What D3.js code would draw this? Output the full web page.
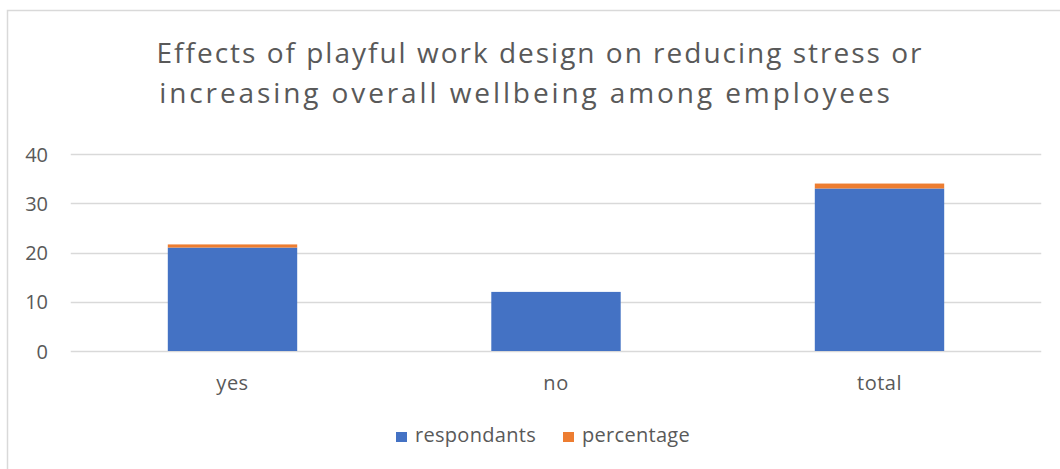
<!DOCTYPE html>
<html><head><meta charset="utf-8">
<script src="https://cdn.jsdelivr.net/npm/d3@7"></script>
<style>body{margin:0;background:#fff;} svg{display:block;font-family:"Open Sans",sans-serif;}</style>
</head><body>
<svg id="c" width="1060" height="469"></svg>
<script>
const categories = ["yes", "no", "total"];
const respondants = [21, 12, 33];
const percentage = [0.64, 0, 1];
const seriesNames = ["respondants", "percentage"];
const seriesColors = ["#4472C4", "#ED7D31"];
const yTicks = [0, 10, 20, 30, 40];
const titleLines = ["Effects of playful work design on reducing stress or", "increasing overall wellbeing among employees"];

const svg = d3.select("#c");
const textColor = "#595959";
const FONT = "'Open Sans', sans-serif";

svg.append("rect").attr("x", 7.5).attr("y", 10.5).attr("width", 1100).attr("height", 600)
  .attr("fill", "#fff").attr("stroke", "#d9d9d9").attr("stroke-width", 1.5);

const x = d3.scaleBand().domain(categories).range([70.75, 1041.25]).paddingInner(0.6).paddingOuter(0.3);
const y = d3.scaleLinear().domain([0, 40]).range([351, 154]);

// gridlines
svg.append("g").selectAll("line").data(yTicks).join("line")
  .attr("x1", 70.75).attr("x2", 1041.25)
  .attr("y1", d => Math.round(y(d)) + 0.5).attr("y2", d => Math.round(y(d)) + 0.5)
  .attr("stroke", "#d9d9d9").attr("stroke-width", 1.3);

// y axis
const yAxis = d3.axisLeft(y).tickValues(yTicks).tickSize(0).tickPadding(0);
const yg = svg.append("g").attr("transform", "translate(48,0)").call(yAxis);
yg.select(".domain").remove();
yg.selectAll("text").attr("fill", textColor).style("font-size", "20px").style("font-family", FONT).attr("dy", "0.36em");

// stacked data
const rows = categories.map((c, i) => ({cat: c, respondants: respondants[i], percentage: percentage[i]}));
const stack = d3.stack().keys(seriesNames)(rows);
svg.append("g").selectAll("g").data(stack).join("g")
  .attr("fill", (d, i) => seriesColors[i])
  .selectAll("rect").data(d => d).join("rect")
  .attr("x", d => x(d.data.cat))
  .attr("width", x.bandwidth())
  .attr("y", d => y(d[1]))
  .attr("height", d => y(d[0]) - y(d[1]));

// x axis
const xAxis = d3.axisBottom(x).tickSize(0).tickPadding(0);
const xg = svg.append("g").attr("transform", "translate(0,376)").call(xAxis);
xg.select(".domain").remove();
xg.selectAll("text").attr("fill", textColor).style("font-size", "20px").style("font-family", FONT).style("letter-spacing", "0.5px");

// title
const titleSpacing = ["2px", "2.9px"];
const titleX = [540, 526];
svg.append("g").selectAll("text").data(titleLines).join("text")
  .attr("x", (d, i) => titleX[i]).attr("y", (d, i) => 63 + i * 40)
  .attr("text-anchor", "middle").attr("fill", textColor)
  .style("font-size", "28px").style("letter-spacing", (d, i) => titleSpacing[i]).text(d => d);

// legend
const legX = [396, 563];
const lg = svg.append("g").selectAll("g").data(seriesNames).join("g")
  .attr("transform", (d, i) => `translate(${legX[i]},0)`);
lg.append("rect").attr("x", 0).attr("y", 432).attr("width", 11).attr("height", 10)
  .attr("fill", (d, i) => seriesColors[i]);
lg.append("text").attr("x", 19).attr("y", 442).attr("fill", textColor)
  .style("font-size", "20px").style("letter-spacing", "0.3px").text(d => d);
</script>
</body></html>
